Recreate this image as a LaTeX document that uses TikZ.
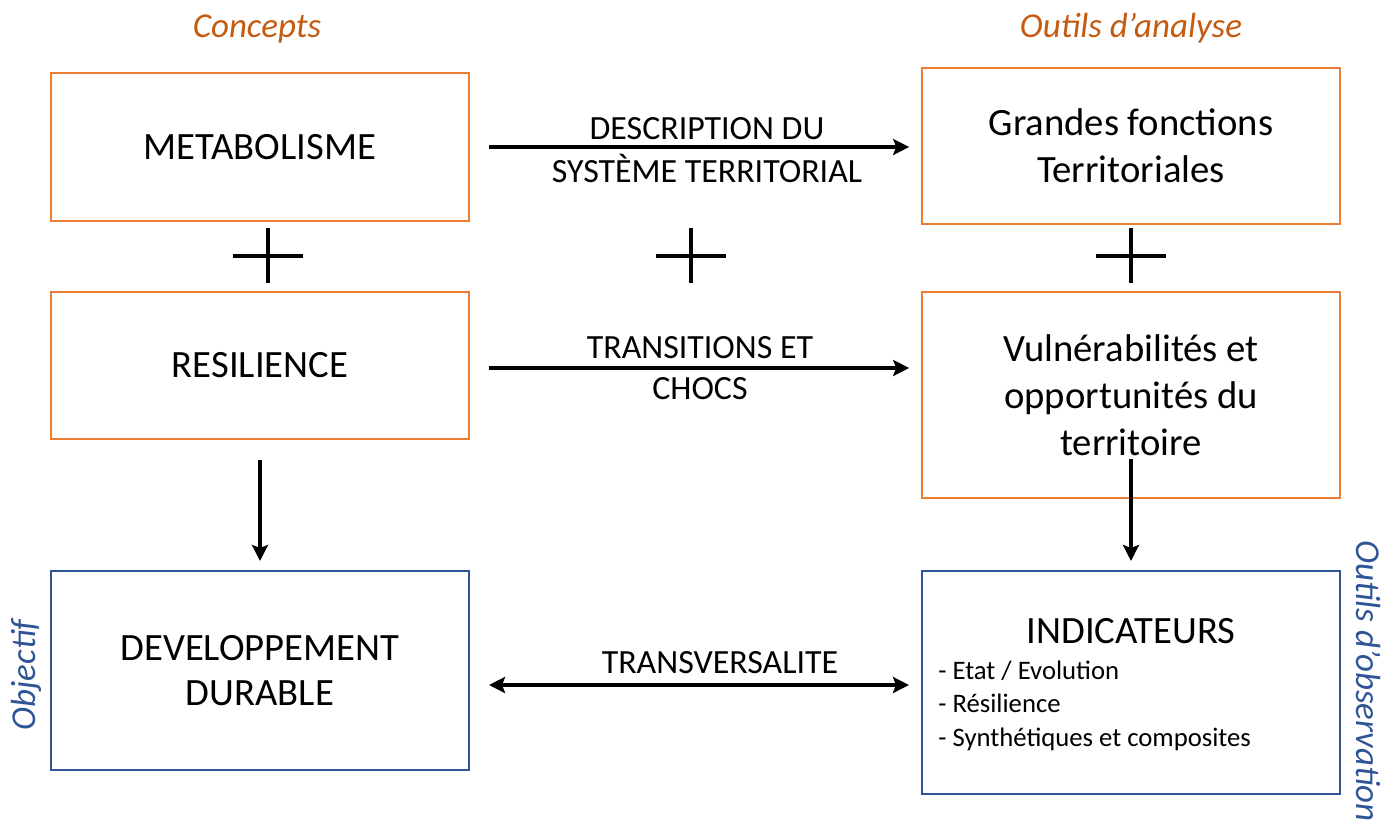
\documentclass[tikz,border=0pt]{standalone}
\usepackage{fontspec}
\setmainfont{Carlito}
\usepackage{xcolor}
\usetikzlibrary{shapes,arrows,arrows.meta,positioning}
\definecolor{titleorange}{HTML}{C55A11}
\definecolor{boxorange}{HTML}{ED7D31}
\definecolor{obsblue}{HTML}{2F5597}
\tikzstyle{arrow} = [line width=2pt,-{Stealth[length=0.32cm,width=0.32cm,inset=0.06cm]}]
\tikzstyle{twoway} = [line width=2pt,{Stealth[length=0.32cm,width=0.32cm,inset=0.06cm]}-{Stealth[length=0.32cm,width=0.32cm,inset=0.06cm]}]
\tikzstyle{plussign} = [line width=2pt]
\tikzstyle{conceptbox} = [draw=boxorange,line width=1pt,rectangle,minimum width=8.36cm,align=center,font=\fontsize{22}{26.7}\selectfont]
\tikzstyle{obsbox} = [draw=obsblue,line width=1.2pt,rectangle,minimum width=8.36cm,align=center,font=\fontsize{22}{25.5}\selectfont]
\tikzstyle{linklabel} = [anchor=base,inner sep=0pt,font=\fontsize{19.3}{23}\selectfont]
\tikzstyle{coltitle} = [anchor=base,inner sep=0pt,text=titleorange,font=\fontsize{19.9}{24}\selectfont\itshape]
\tikzstyle{sidetitle} = [inner sep=0pt,text=obsblue,font=\fontsize{19.9}{24}\selectfont\itshape]

\begin{document}
\begin{tikzpicture}[x=0.02cm,y=-0.02cm]
\useasboundingbox (0,0) rectangle (1397,823);
% titres des colonnes
\node[coltitle] (concepts) at (257,37) {Concepts};
\node[coltitle] (outils) at (1131,37) {Outils d’analyse};
\node[sidetitle,rotate=90] (objectif) at (26,675) {Objectif};
\node[sidetitle,rotate=-90,anchor=west] (observation) at (1368,540) {Outils d’observation};
% boites
\node[conceptbox,minimum height=2.96cm] (meta) at (260,147) {METABOLISME};
\node[conceptbox,minimum height=3.12cm] (grandes) at (1131,146) {Grandes fonctions\\Territoriales};
\node[conceptbox,minimum height=2.94cm] (resil) at (260,365.5) {RESILIENCE};
\node[conceptbox,minimum height=4.12cm] (vuln) at (1131,395) {Vulnérabilités et\\opportunités du\\territoire};
\node[obsbox,minimum height=3.98cm] (dev) at (260,670.5) {DEVELOPPEMENT\\DURABLE};
\node[obsbox,minimum height=4.46cm] (indic) at (1131,682.5) {};
\node[anchor=base,inner sep=0pt,font=\fontsize{22}{26}\selectfont] (indictitle) at (1131,643) {INDICATEURS};
\node[anchor=base west,inner sep=0pt,align=left,font=\fontsize{15.2}{19}\selectfont] (indiclist) at (938,746) {- Etat / Evolution\\- Résilience\\- Synthétiques et composites};
% signes plus
\foreach \x in {268,691,1131}
  \draw[plussign] (\x-35,256) -- (\x+35,256) (\x,228) -- (\x,283);
% fleches
\draw[arrow,shorten <=0.38cm,shorten >=0.24cm] (meta.east) -- (meta.east -| grandes.west);
\node[linklabel] (desc1) at (707,139) {DESCRIPTION DU};
\node[linklabel] (desc2) at (707,182) {SYSTÈME TERRITORIAL};
\draw[arrow,shorten <=0.38cm,shorten >=0.24cm] ([yshift=-0.05cm]resil.east) -- ([yshift=-0.05cm]resil.east -| vuln.west);
\node[linklabel] (trans1) at (700,358) {TRANSITIONS ET};
\node[linklabel] (trans2) at (700,399) {CHOCS};
\draw[arrow,shorten <=0.4cm,shorten >=0.18cm] (resil.south) -- (dev.north);
\draw[arrow,shorten <=-0.8cm,shorten >=0.18cm] (vuln.south) -- (indic.north);
\draw[twoway,shorten <=0.38cm,shorten >=0.24cm] ([yshift=-0.29cm]dev.east) -- ([yshift=-0.29cm]dev.east -| indic.west);
\node[linklabel] (transv) at (720,673) {TRANSVERSALITE};
\end{tikzpicture}
\end{document}
